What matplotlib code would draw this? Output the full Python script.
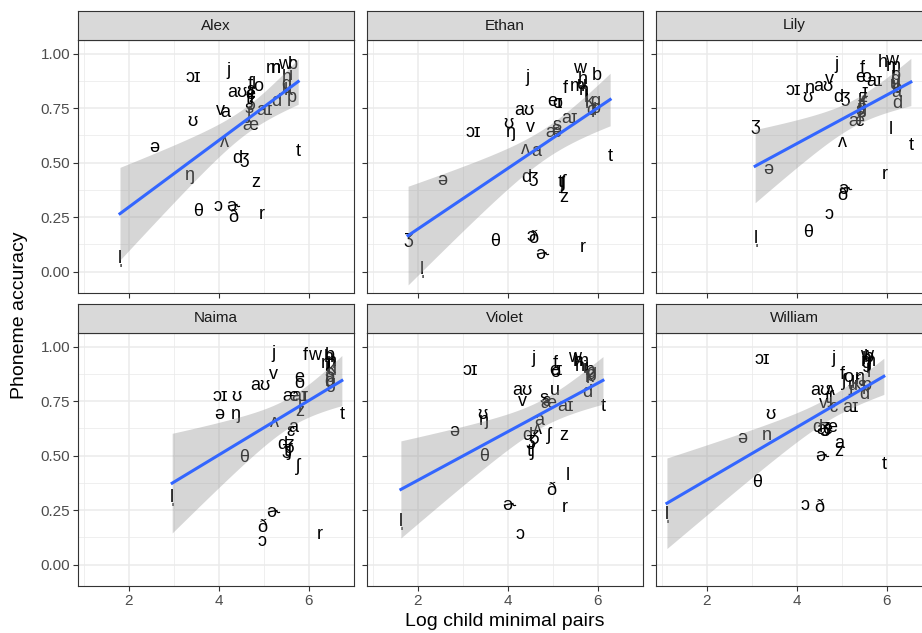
import numpy as np
import matplotlib
matplotlib.use('Agg')
import matplotlib.pyplot as plt

plt.rcParams['font.family'] = ['Liberation Sans', 'DejaVu Sans']

# phoneme labels shared by every child
phonemes = ['p', 'b', 't', 'd', 'k', 'g', 'm', 'n', 'ŋ', 'f', 'v', 'θ', 'ð', 's',
            'z', 'ʃ', 'ʒ', 'h', 'ʧ', 'ʤ', 'l', 'r', 'w', 'j', 'i', 'ɪ', 'e', 'ɛ',
            'æ', 'a', 'ɔ', 'o', 'ʊ', 'u', 'ʌ', 'ə', 'ɚ', 'aɪ', 'aʊ', 'ɔɪ', 'l\u0329']

children = ['Alex', 'Ethan', 'Lily', 'Naima', 'Violet', 'William']

# log child minimal pairs (x) and phoneme accuracy (y), in phoneme order
alex_x = [5.62, 5.65, 5.76, 5.27, 5.55, 5.50, 5.20, 5.27, 3.36, 4.69, 4.04, 3.53, 4.31, 4.67,
          4.82, 4.67, 4.70, 5.50, 4.68, 4.47, 4.78, 4.96, 5.45, 4.22, 5.60, 4.72, 4.69, 4.70,
          4.69, 4.13, 3.98, 4.87, 3.40, 5.50, 4.11, 2.56, 4.31, 5.02, 4.40, 3.42, 1.80]
alex_y = [0.80, 0.95, 0.55, 0.78, 0.83, 0.86, 0.93, 0.93, 0.44, 0.86, 0.74, 0.275, 0.25, 0.75,
          0.41, 0.72, 0.78, 0.89, 0.79, 0.52, 0.86, 0.26, 0.95, 0.92, 0.90, 0.82, 0.81, 0.83,
          0.67, 0.73, 0.30, 0.85, 0.69, 0.84, 0.59, 0.57, 0.30, 0.74, 0.82, 0.89, 0.06]

ethan_x = [5.95, 5.98, 6.27, 5.85, 5.80, 5.95, 5.53, 5.69, 4.07, 5.27, 4.49, 3.71, 4.56, 5.10,
           5.24, 5.20, 1.78, 5.67, 5.18, 4.47, 5.72, 5.67, 5.60, 4.44, 5.75, 5.12, 4.98, 5.05,
           5.00, 4.62, 4.51, 5.10, 4.00, 5.65, 4.38, 2.53, 4.76, 5.36, 4.36, 3.22, 2.09]
ethan_y = [0.75, 0.90, 0.53, 0.74, 0.78, 0.78, 0.85, 0.83, 0.64, 0.84, 0.66, 0.14, 0.15, 0.67,
           0.34, 0.40, 0.15, 0.88, 0.41, 0.43, 0.80, 0.11, 0.93, 0.89, 0.77, 0.77, 0.78, 0.65,
           0.64, 0.55, 0.16, 0.77, 0.68, 0.86, 0.56, 0.42, 0.08, 0.70, 0.74, 0.64, 0.01]

lily_x = [6.20, 6.22, 6.53, 6.22, 5.45, 6.18, 6.13, 4.29, 5.45, 5.44, 4.71, 4.24, 5.00, 5.42,
          5.46, 5.40, 3.07, 5.91, 5.44, 4.98, 6.09, 5.96, 6.11, 4.87, 6.15, 5.50, 5.40, 5.38,
          5.33, 6.20, 4.71, 5.53, 4.24, 6.17, 5.00, 3.36, 5.07, 5.73, 4.58, 3.91, 3.09]
lily_y = [0.90, 0.84, 0.58, 0.77, 0.78, 0.88, 0.94, 0.84, 0.75, 0.93, 0.88, 0.18, 0.35, 0.73,
          0.80, 0.71, 0.67, 0.96, 0.76, 0.80, 0.65, 0.445, 0.97, 0.95, 0.92, 0.82, 0.89, 0.74,
          0.69, 0.82, 0.26, 0.89, 0.80, 0.86, 0.59, 0.47, 0.375, 0.87, 0.85, 0.83, 0.15]

naima_x = [6.47, 6.47, 6.73, 6.45, 6.50, 6.47, 6.42, 6.50, 4.38, 5.91, 5.20, 4.56, 4.96, 6.45,
           5.80, 5.76, 5.50, 6.44, 5.52, 5.47, 5.80, 6.24, 6.13, 5.22, 6.40, 5.90, 5.78, 5.60,
           5.58, 5.65, 4.96, 5.78, 4.38, 6.50, 5.24, 4.00, 5.20, 5.80, 4.91, 4.02, 2.96]
naima_y = [0.86, 0.96, 0.69, 0.84, 0.90, 0.83, 0.92, 0.93, 0.69, 0.96, 0.87, 0.49, 0.17, 0.88,
           0.70, 0.45, 0.53, 0.95, 0.52, 0.55, 0.72, 0.14, 0.96, 0.97, 0.91, 0.77, 0.86, 0.61,
           0.77, 0.63, 0.105, 0.83, 0.77, 0.89, 0.65, 0.69, 0.24, 0.77, 0.82, 0.77, 0.31]

violet_x = [5.85, 5.82, 6.11, 5.76, 5.80, 5.85, 5.62, 5.60, 3.47, 5.04, 4.33, 3.47, 4.96, 4.80,
            5.24, 4.91, 4.50, 5.55, 4.49, 4.49, 5.33, 5.27, 5.47, 4.56, 5.70, 5.12, 5.02, 4.85,
            4.90, 4.69, 4.27, 5.04, 3.44, 5.04, 4.66, 2.80, 4.02, 5.27, 4.31, 3.16, 1.62]
violet_y = [0.87, 0.89, 0.725, 0.79, 0.86, 0.88, 0.93, 0.91, 0.66, 0.92, 0.75, 0.495, 0.34, 0.76,
            0.59, 0.59, 0.57, 0.93, 0.52, 0.59, 0.41, 0.26, 0.95, 0.945, 0.90, 0.89, 0.89, 0.75,
            0.74, 0.66, 0.14, 0.88, 0.69, 0.80, 0.62, 0.61, 0.27, 0.725, 0.80, 0.89, 0.20]

william_x = [5.55, 5.60, 5.93, 5.49, 5.30, 5.55, 5.58, 3.33, 5.40, 5.00, 4.58, 3.11, 4.49, 5.45,
             4.93, 5.05, 4.62, 5.55, 4.70, 4.51, 5.60, 5.35, 5.55, 4.80, 5.58, 5.20, 4.78, 4.82,
             4.60, 4.93, 4.18, 5.13, 3.40, 5.25, 4.75, 2.78, 4.56, 5.20, 4.51, 3.22, 1.11]
william_y = [0.82, 0.95, 0.46, 0.78, 0.83, 0.92, 0.93, 0.59, 0.86, 0.87, 0.74, 0.375, 0.26, 0.82,
             0.52, 0.84, 0.63, 0.94, 0.76, 0.63, 0.88, 0.85, 0.96, 0.945, 0.90, 0.80, 0.63, 0.72,
             0.62, 0.555, 0.27, 0.86, 0.69, 0.82, 0.80, 0.58, 0.495, 0.72, 0.80, 0.94, 0.23]

xs_all = [alex_x, ethan_x, lily_x, naima_x, violet_x, william_x]
ys_all = [alex_y, ethan_y, lily_y, naima_y, violet_y, william_y]

W, H = 922, 633
fig = plt.figure(figsize=(W / 100, H / 100), dpi=100)


def add_box(left, top, width, height):
    return fig.add_axes([left / W, 1 - (top + height) / H, width / W, height / H])


col_left = [78, 367, 656]
row_top = [40, 333]
pw, ph = 276, 253
strip_h = 29

for i, name in enumerate(children):
    r, c = divmod(i, 3)
    x = np.array(xs_all[i])
    y = np.array(ys_all[i])

    ax = add_box(col_left[c], row_top[r], pw, ph)
    ax.set_xlim(0.867, 7.0)
    ax.set_ylim(-0.098, 1.062)
    ax.set_xticks([2, 4, 6])
    ax.set_xticks([1, 3, 5, 7], minor=True)
    ax.set_yticks([0, 0.25, 0.5, 0.75, 1.0])
    ax.set_yticks([0.125, 0.375, 0.625, 0.875], minor=True)
    ax.grid(which='major', color='#EBEBEB', lw=1.1)
    ax.grid(which='minor', color='#EBEBEB', lw=0.55)
    ax.set_axisbelow(True)
    for sp in ax.spines.values():
        sp.set_color('#333333')
        sp.set_linewidth(0.8)
    ax.tick_params(which='major', length=3.5, width=0.8, color='#333333',
                   labelcolor='#4D4D4D', labelsize=11, pad=2)
    ax.tick_params(which='minor', length=0)
    if c == 0:
        ax.set_yticklabels(['0.00', '0.25', '0.50', '0.75', '1.00'])
    else:
        ax.tick_params(axis='y', labelleft=False)
    if r == 0:
        ax.tick_params(axis='x', labelbottom=False)

    for lab, xi, yi in zip(phonemes, x, y):
        ax.text(xi, yi, lab, ha='center', va='center', fontsize=13,
                color='black', zorder=2, clip_on=True)

    # linear fit with 95% confidence band
    n = len(x)
    slope, icpt = np.polyfit(x, y, 1)
    resid = y - (slope * x + icpt)
    s = np.sqrt(np.sum(resid ** 2) / (n - 2))
    sxx = np.sum((x - x.mean()) ** 2)
    grid = np.linspace(x.min(), x.max(), 80)
    fit = slope * grid + icpt
    se = s * np.sqrt(1 / n + (grid - x.mean()) ** 2 / sxx)
    tval = 2.023
    ax.fill_between(grid, fit - tval * se, fit + tval * se, color='#999999',
                    alpha=0.4, lw=0, zorder=3)
    ax.plot(grid, fit, color='#3366FF', lw=2.2, zorder=4)

    sax = add_box(col_left[c], row_top[r] - strip_h, pw, strip_h)
    sax.set_facecolor('#D9D9D9')
    sax.set_xticks([])
    sax.set_yticks([])
    for sp in sax.spines.values():
        sp.set_color('#333333')
        sp.set_linewidth(0.8)
    sax.text(0.5, 0.5, name, ha='center', va='center', fontsize=11,
             color='#1A1A1A', transform=sax.transAxes)

fig.text(505 / W, 1 - 622 / H, 'Log child minimal pairs', ha='center', va='center', fontsize=14)
fig.text(20 / W, 1 - 315 / H, 'Phoneme accuracy', ha='center', va='center',
         rotation=90, fontsize=14)

plt.savefig('out.png', dpi=100)
